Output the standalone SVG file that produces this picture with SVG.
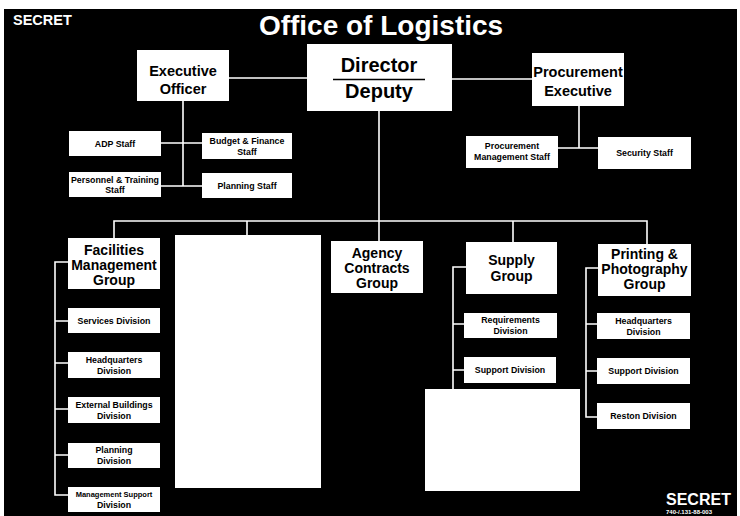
<svg xmlns="http://www.w3.org/2000/svg" width="740" height="516" viewBox="0 0 740 516">
<style>
.box{fill:#fff}
.ln{stroke:#fff;stroke-width:1.6;fill:none}
.t{font-family:"Liberation Sans",Arial,sans-serif;font-weight:bold;text-anchor:middle;fill:#000}
.g{font-size:14px}
.s{font-size:8.8px}
.w{font-family:"Liberation Sans",Arial,sans-serif;font-weight:bold;fill:#fff}
</style>
<rect x="0" y="0" width="740" height="516" fill="#fff"/>
<rect x="4" y="9" width="733" height="507" fill="#000"/>
<text class="w" x="13" y="25" font-size="14.5">SECRET</text>
<text class="w" x="381" y="35" font-size="28" text-anchor="middle">Office of Logistics</text>
<text class="w" x="666" y="505" font-size="16">SECRET</text>
<text class="w" x="666" y="514" font-size="6">740-/.131-88-003</text>
<g id="connectors">
<path class="ln" d="M229 78H307M452 79H532M183 101V186M161 143H202M161 186H202M579 106V148M558 148H598M379 111V241M114 238V221H647V244M247 221V235M513 221V242"/>
<path class="ln" d="M68 262H55V495H68M55 321H68M55 363H68M55 409H68M55 455H68"/>
<path class="ln" d="M466 267H453V389M453 324H464M453 370H464"/>
<path class="ln" d="M598 268H586V417H597M586 324H597M586 371H597"/>
</g>
<g id="director"><rect class="box" x="307" y="44" width="145" height="67"/><text class="t" x="379" y="72" font-size="20">Director</text><line x1="333" y1="79.5" x2="425" y2="79.5" stroke="#000" stroke-width="1.6"/><text class="t" x="379" y="98" font-size="20">Deputy</text></g>
<g id="exec"><rect class="box" x="137" y="50" width="92" height="51"/><text class="t" x="183" y="76" font-size="14.5">Executive</text><text class="t" x="183" y="94" font-size="14.5">Officer</text></g>
<g id="procexec"><rect class="box" x="532" y="53" width="92" height="53"/><text class="t" x="578" y="77" font-size="14.5">Procurement</text><text class="t" x="578" y="96" font-size="14.5">Executive</text></g>
<g id="adp"><rect class="box" x="69" y="131" width="92" height="25"/><text class="t s" x="115" y="146.5">ADP Staff</text></g>
<g id="budget"><rect class="box" x="202" y="133" width="90" height="26"/><text class="t s" x="247" y="144">Budget &amp; Finance</text><text class="t s" x="247" y="155">Staff</text></g>
<g id="personnel"><rect class="box" x="69" y="172" width="92" height="25"/><text class="t s" x="115" y="182.5">Personnel &amp; Training</text><text class="t s" x="115" y="193">Staff</text></g>
<g id="planningstaff"><rect class="box" x="202" y="173" width="90" height="25"/><text class="t s" x="247" y="188.5">Planning Staff</text></g>
<g id="pms"><rect class="box" x="466" y="136" width="92" height="32"/><text class="t s" x="512" y="149">Procurement</text><text class="t s" x="512" y="160">Management Staff</text></g>
<g id="security"><rect class="box" x="598" y="137" width="93" height="32"/><text class="t s" x="644.5" y="156">Security Staff</text></g>
<g id="facilities"><rect class="box" x="68" y="238" width="92" height="51"/><text class="t g" x="114" y="255">Facilities</text><text class="t g" x="114" y="270">Management</text><text class="t g" x="114" y="285">Group</text></g>
<g id="blank1"><rect class="box" x="175" y="235" width="146" height="253"/></g>
<g id="agency"><rect class="box" x="331" y="241" width="92" height="52"/><text class="t g" x="377" y="258">Agency</text><text class="t g" x="377" y="273">Contracts</text><text class="t g" x="377" y="288">Group</text></g>
<g id="supply"><rect class="box" x="466" y="242" width="91" height="52"/><text class="t g" x="511.5" y="265">Supply</text><text class="t g" x="511.5" y="281">Group</text></g>
<g id="printing"><rect class="box" x="598" y="244" width="93" height="52"/><text class="t g" x="644.5" y="259">Printing &amp;</text><text class="t g" x="644.5" y="274">Photography</text><text class="t g" x="644.5" y="289">Group</text></g>
<g id="services"><rect class="box" x="68" y="308" width="92" height="25"/><text class="t s" x="114" y="323.5">Services Division</text></g>
<g id="hq1"><rect class="box" x="68" y="352" width="92" height="26"/><text class="t s" x="114" y="362.5">Headquarters</text><text class="t s" x="114" y="373.5">Division</text></g>
<g id="external"><rect class="box" x="68" y="397" width="92" height="26"/><text class="t s" x="114" y="407.5">External Buildings</text><text class="t s" x="114" y="418.5">Division</text></g>
<g id="planningdiv"><rect class="box" x="68" y="443" width="92" height="25"/><text class="t s" x="114" y="453">Planning</text><text class="t s" x="114" y="464">Division</text></g>
<g id="mgmtsupport"><rect class="box" x="68" y="487" width="92" height="25"/><text class="t" x="114" y="497" font-size="7.5">Management Support</text><text class="t s" x="114" y="508">Division</text></g>
<g id="requirements"><rect class="box" x="464" y="313" width="93" height="25"/><text class="t s" x="510.5" y="323">Requirements</text><text class="t s" x="510.5" y="334">Division</text></g>
<g id="support1"><rect class="box" x="464" y="357" width="92" height="26"/><text class="t s" x="510" y="373">Support Division</text></g>
<g id="blank2"><rect class="box" x="425" y="389" width="155" height="102"/></g>
<g id="hq2"><rect class="box" x="597" y="313" width="93" height="26"/><text class="t s" x="643.5" y="323.5">Headquarters</text><text class="t s" x="643.5" y="334.5">Division</text></g>
<g id="support2"><rect class="box" x="597" y="358" width="93" height="26"/><text class="t s" x="643.5" y="374">Support Division</text></g>
<g id="reston"><rect class="box" x="597" y="403" width="93" height="26"/><text class="t s" x="643.5" y="419">Reston Division</text></g>
</svg>
